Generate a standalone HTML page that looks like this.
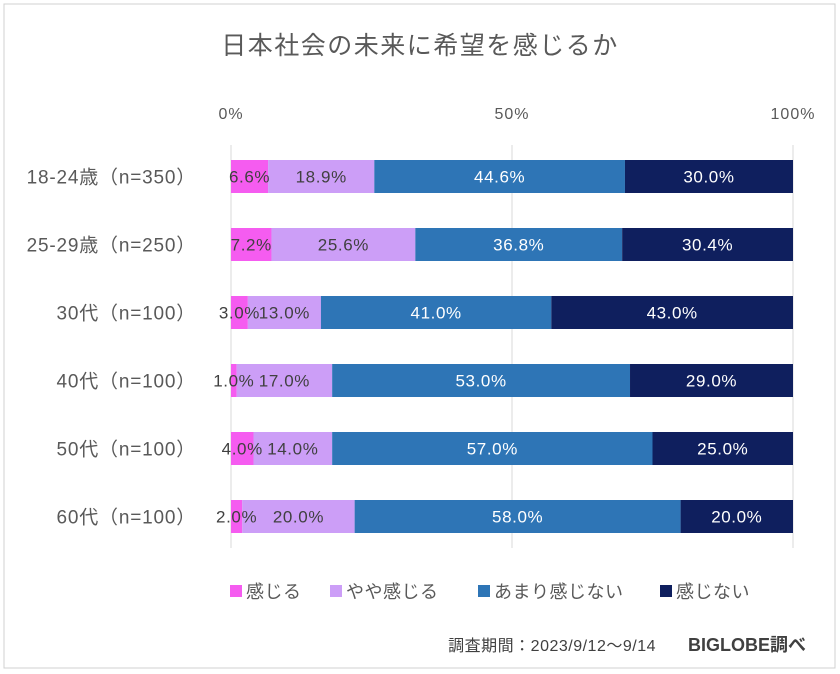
<!DOCTYPE html>
<html><head><meta charset="utf-8"><style>
body{margin:0;background:#fff;}
svg{display:block;font-family:"Liberation Sans","Noto Sans CJK JP",sans-serif;}
</style></head><body>
<svg id="c" width="840" height="674">
<rect x="4" y="4" width="831" height="664" fill="#fff" stroke="#d0d0d0"/>
<text x="420" y="54" text-anchor="middle" font-size="25" letter-spacing="1.5" fill="#595959">日本社会の未来に希望を感じるか</text>
<g id="grid"></g><g id="bars"></g><g id="labels"></g><g id="legend"></g>
<text x="656" y="651" text-anchor="end" font-size="16" letter-spacing="0.5" fill="#404040">調査期間：2023/9/12〜9/14</text>
<text x="806" y="651" text-anchor="end" font-size="18" font-weight="bold" fill="#404040">BIGLOBE調べ</text>
</svg>
<script>
const categories=["18-24歳（n=350）","25-29歳（n=250）","30代（n=100）","40代（n=100）","50代（n=100）","60代（n=100）"];
const seriesNames=["感じる","やや感じる","あまり感じない","感じない"];
const s1=[6.6,7.2,3.0,1.0,4.0,2.0];
const s2=[18.9,25.6,13.0,17.0,14.0,20.0];
const s3=[44.6,36.8,41.0,53.0,57.0,58.0];
const s4=[30.0,30.4,43.0,29.0,25.0,20.0];
const ticks=[0,50,100];
const colors=["#f55cf0","#cc9ef7","#2e75b6","#0f1f5e"];
const textColors=["#404040","#404040","#ffffff","#ffffff"];
const series=[s1,s2,s3,s4];
const NS="http://www.w3.org/2000/svg";
const x0=231,x1=793;
const X=v=>x0+(x1-x0)*v/100;
const rowY=i=>160+i*68;const BH=33;
function mk(t,a,p){const e=document.createElementNS(NS,t);for(const k in a)e.setAttribute(k,a[k]);p.appendChild(e);return e;}
const grid=document.getElementById('grid'),bars=document.getElementById('bars'),labels=document.getElementById('labels'),leg=document.getElementById('legend');
ticks.forEach(t=>{
 const l=mk('line',{x1:X(t),x2:X(t),y1:145,y2:548,stroke:'#d9d9d9'},grid);
 
 
 const tx=mk('text',{x:X(t),y:119,'text-anchor':'middle','font-size':16,'letter-spacing':1,fill:'#595959'},grid);
 tx.textContent=t+'%';
 
 
});
categories.forEach((c,i)=>{
 const y=rowY(i);
 const lb=mk('text',{x:196,y:y+BH/2+7,'text-anchor':'end','font-size':19,'letter-spacing':0.8,fill:'#595959'},labels);
 lb.textContent=c;
 
 
 let cum=0;
 series.forEach((s,j)=>{
  const v=s[i];const a=X(cum),b=X(Math.min(cum+v,100));
  const r=mk('rect',{x:a,y:y,width:Math.max(0,b-a),height:BH,fill:colors[j]},bars);
  
  
  const t=mk('text',{x:(a+b)/2,y:y+BH/2+6,'text-anchor':'middle','font-size':17,'letter-spacing':0.6,fill:textColors[j]},labels);
  t.textContent=v.toFixed(1)+'%';
  
  
  cum+=v;
 });
});
const lx=[230,330,478,660];
seriesNames.forEach((n,j)=>{
 const r=mk('rect',{x:lx[j],y:585,width:12,height:12,fill:colors[j]},leg);
 
 
 const t=mk('text',{x:lx[j]+16,y:598,'font-size':18,'letter-spacing':0.5,fill:'#595959'},leg);
 t.textContent=n;
 
 
});
</script>
</body></html>
